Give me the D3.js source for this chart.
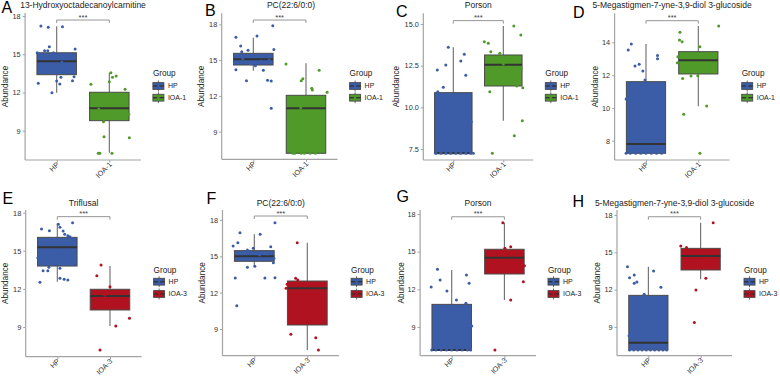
<!DOCTYPE html>
<html><head><meta charset="utf-8">
<script src="https://cdn.jsdelivr.net/npm/d3@7"></script>
<style>body{margin:0;background:#fff} svg{display:block} text{font-family:"Liberation Sans",Arial,Helvetica,sans-serif}</style>
</head><body><svg id="c" width="780" height="379"></svg>
<script>
// ---------------- data ----------------
const letters = ["A","B","C","D","E","F","G","H"];
const titles = ["13-Hydroxyoctadecanoylcarnitine","PC(22:6/0:0)","Porson","5-Megastigmen-7-yne-3,9-diol 3-glucoside",
                "Triflusal","PC(22:6/0:0)","Porson","5-Megastigmen-7-yne-3,9-diol 3-glucoside"];
const categories = [["HP","IOA-1"],["HP","IOA-1"],["HP","IOA-1"],["HP","IOA-1"],
                    ["HP","IOA-3"],["HP","IOA-3"],["HP","IOA-3"],["HP","IOA-3"]];
const yTicks = [[9,12,15,18],[9,12,15,18],[7.5,10,12.5,15],[8,10,12,14],
                [9,12,15,18],[9,12,15,18],[9,12,15,18],[9,12,15,18]];
const yTickFormat = ["d","d",".1f","d","d","d","d","d"];
const yLabel = "Abundance";
const legendTitle = "Group";
// box stats: [lower whisker, Q1, median, Q3, upper whisker]
const boxHP = [[11.98,13.4,14.45,15.12,17.2],[14.11,14.59,15.07,15.57,16.88],[7.24,7.24,7.24,10.88,13.6],[7.23,7.23,7.8,11.6,13.9],
               [12.57,13.8,15.27,16.06,17.16],[14.2,14.59,15.0,15.47,16.82],[7.16,7.16,7.16,10.8,13.54],[7.15,7.15,7.74,11.54,13.85]];
const boxIOA = [[7.28,9.79,10.76,12.02,13.56],[7.19,7.19,10.96,12.05,14.73],[9.2,11.28,12.56,13.14,14.88],[10.1,12.07,12.9,13.43,15.0],
                [9.08,10.34,11.44,11.97,13.8],[7.27,9.33,12.36,12.96,16.13],[11.15,13.22,14.52,15.19,17.31],[12.83,13.58,14.7,15.32,17.38]];
const sigY = [17.69,18.36,15.2,15.32,17.69,18.33,17.78,17.86];
const sigLabel = "***";
// points: [jitter (fraction of category step), value]
const pointsHP = [
 [[-0.30,17.22],[-0.16,17.12],[0.11,17.17],[-0.14,15.6],[-0.23,15.28],[-0.17,15.28],[-0.37,15.12],[-0.06,15.12],[0.35,15.42],[-0.35,12.72],[-0.09,11.98],[0,12.9],[0.06,12.67],[0.08,13.19],[0.30,12.93],[0.33,13.24],[-0.2,14.0],[0.1,14.4],[0.25,13.8],[-0.1,14.8]],
 [[0.37,17.89],[-0.33,16.91],[0.07,17.02],[-0.24,16.18],[-0.22,15.71],[-0.1,15.82],[0.39,15.9],[-0.36,14.78],[-0.33,14.2],[0.19,14.15],[0.04,14.53],[-0.13,13.28],[0.27,13.31],[0.34,13.25],[0.34,10.96],[-0.2,15.1],[0.0,15.3],[0.15,14.9],[0.3,15.0],[-0.05,14.7]],
 [[-0.1,13.6],[0.22,13.18],[0.15,12.78],[-0.15,12.54],[-0.32,12.24],[0.25,11.92],[-0.2,11.2],[-0.31,10.94],[0.36,9.14],[-0.35,7.24],[-0.25,7.24],[-0.15,7.24],[-0.05,7.24],[0.05,7.24],[0.15,7.24],[0.25,7.24],[0.35,7.24],[0.4,7.24],[0.1,9.8],[-0.2,8.5]],
 [[-0.28,13.9],[-0.34,13.53],[0.22,13.2],[0.22,13.0],[-0.13,12.66],[-0.21,12.55],[-0.06,12.25],[-0.02,11.7],[-0.38,10.54],[-0.38,7.23],[-0.3,7.23],[-0.2,7.23],[-0.1,7.23],[0,7.23],[0.1,7.23],[0.2,7.23],[0.3,7.23],[0.1,9.5],[-0.2,8.5]],
 [[0.29,17.21],[0.02,17.09],[0.05,16.85],[-0.3,16.72],[-0.15,16.58],[0.11,16.56],[0.14,16.3],[0.2,16.19],[0.24,16.11],[-0.37,14.46],[-0.16,13.7],[-0.27,13.43],[-0.18,13.43],[0.05,12.83],[0.13,12.76],[0.2,12.7],[-0.33,12.52],[0.05,13.62],[0,15.0],[-0.2,15.5],[0.2,14.5]],
 [[0.39,17.78],[-0.27,16.95],[0.11,16.82],[-0.31,16.13],[-0.4,15.85],[0.31,15.8],[-0.02,15.66],[-0.13,15.52],[0.37,14.84],[0.36,14.48],[-0.13,14.1],[0.01,14.18],[-0.36,13.21],[0.2,13.21],[0.39,13.24],[-0.33,10.92],[0.1,15.1],[-0.2,14.8],[0.25,15.2]],
 [[-0.27,13.59],[-0.22,12.74],[0.28,13.14],[0.33,12.48],[-0.39,12.18],[-0.09,11.86],[0.09,11.15],[0.27,10.88],[0.38,9.08],[-0.38,7.16],[-0.3,7.16],[-0.2,7.16],[-0.1,7.16],[0,7.16],[0.1,7.16],[0.2,7.16],[0.3,7.16],[0.36,7.16],[0,9.5],[-0.2,8.3]],
 [[-0.40,13.85],[-0.36,12.96],[-0.27,13.18],[-0.27,12.51],[-0.22,12.61],[0.1,13.5],[0.24,12.19],[-0.08,11.63],[-0.37,8.3],[-0.36,7.15],[-0.28,7.15],[-0.2,7.15],[-0.12,7.15],[-0.04,7.15],[0.04,7.15],[0.12,7.15],[0.2,7.15],[0.28,7.15],[0.35,7.15],[0,9.5],[0.2,10.5]]
];
const pointsIOA = [
 [[-0.35,12.64],[0.03,13.55],[0.06,13.19],[0.13,13.3],[0,12.85],[0.3,12.25],[-0.11,9.71],[-0.1,8.53],[0.38,8.45],[-0.21,7.24],[-0.18,7.24],[0.05,7.24],[0.37,10.3],[-0.2,10.7],[0.1,11.5],[0.2,10.0]],
 [[-0.38,14.67],[-0.09,13.28],[-0.06,13.44],[0.11,12.64],[0.12,12.5],[0.25,14.15],[0.40,12.3],[-0.25,7.19],[-0.21,7.19],[-0.09,7.19],[-0.03,7.19],[0.08,7.19],[0.18,7.19],[-0.1,11],[0.2,9.5],[0,10.2]],
 [[0.21,14.88],[0.35,14.34],[-0.38,13.94],[-0.3,13.84],[-0.25,13.34],[-0.07,13.24],[0.36,12.38],[0.27,11.28],[0.39,11.18],[-0.27,10.94],[0.38,9.2],[0.22,8.3],[-0.22,7.24],[0,12.6],[-0.15,12.0],[0.2,12.9]],
 [[0.39,15.0],[-0.35,14.61],[-0.36,14.14],[-0.31,14.04],[0.03,13.73],[-0.39,13.12],[-0.40,12.76],[-0.3,11.8],[-0.14,11.94],[-0.01,11.96],[0.16,10.12],[-0.28,9.61],[0.03,7.23],[0.1,12.5],[0.25,13.1],[-0.1,13.3]],
 [[-0.17,13.88],[-0.25,13.04],[0,12.17],[0.37,9.69],[0.11,9.08],[-0.19,7.19],[-0.1,11.5],[0.15,10.8]],
 [[-0.19,16.13],[-0.22,13.18],[-0.18,13.05],[-0.38,12.69],[-0.4,12.36],[-0.31,8.56],[0.16,8.28],[0.21,7.27],[0,11],[0.2,10]],
 [[-0.03,17.31],[0.01,15.27],[0.12,15.39],[0.38,13.88],[0.36,12.61],[0.12,11.15],[-0.18,7.16],[-0.1,14.2],[0.2,14.8]],
 [[0.24,17.38],[-0.38,15.51],[-0.27,15.38],[0.1,12.91],[-0.09,11.97],[-0.12,9.35],[0,14.5],[0.15,14.0],[-0.2,15.0]]
];
const groupColors = {"HP":"#3B5DA8","IOA-1":"#4F9A28","IOA-3":"#B1121F"};

// ---------------- layout ----------------
const layout = [
 {x0:25.1,x1:140.9,yTop:13,yBot:160,lo:6.703,hi:18.241,tx:83,ty:8,lx:1.5,ly:12.5,ax:5},
 {x0:221.7,x1:337.6,yTop:13.3,yBot:159.3,lo:6.686,hi:18.925,tx:291,ty:8,lx:205,ly:16,ax:201.7},
 {x0:423.3,x1:533.3,yTop:13.3,yBot:160,lo:6.84,hi:15.64,tx:478.3,ty:8,lx:396,ly:16.5,ax:396.7},
 {x0:614.6,x1:729.7,yTop:13.3,yBot:160,lo:6.823,hi:15.77,tx:672,ty:8,lx:573,ly:17.5,ax:595},
 {x0:25.7,x1:141.6,yTop:210,yBot:356.7,lo:6.661,hi:18.213,tx:83.6,ty:205.8,lx:2.5,ly:203.5,ax:5},
 {x0:222.5,x1:339.1,yTop:210,yBot:355.7,lo:6.794,hi:18.826,tx:280.8,ty:205.8,lx:206.5,ly:204,ax:202.3},
 {x0:420.1,x1:536,yTop:210,yBot:355.7,lo:6.709,hi:18.319,tx:478,ty:205.8,lx:396.5,ly:202,ax:401},
 {x0:617,x1:732,yTop:210,yBot:355.7,lo:6.69,hi:18.402,tx:674.5,ty:205.8,lx:572.5,ly:207,ax:597.7}
];
const legendRows = [{gy:75.5,k:[86,97.7]},{gy:273,k:[281.7,294]}];

const svg = d3.select("#c");
const axisCol = "#a3a3a3", outline = "#4a4a4a", whiskCol = "#6a6a6a", medCol = "#333333";

layout.forEach((L,i)=>{
  const g = svg.append("g");
  const x = d3.scalePoint().domain(categories[i]).range([L.x0,L.x1]).padding(0.6);
  const y = d3.scaleLinear().domain([L.lo,L.hi]).range([L.yBot,L.yTop]);
  const step = x.step(), bw = step*0.75;
  const fmt = d3.format(yTickFormat[i]);

  // boxes
  [boxHP[i], boxIOA[i]].forEach((b,j)=>{
    const cat = categories[i][j], cx = x(cat);
    const bg = g.append("g");
    bg.append("line").attr("x1",cx).attr("x2",cx).attr("y1",y(b[0])).attr("y2",y(b[1]))
      .attr("stroke",whiskCol).attr("stroke-width",1.1);
    bg.append("line").attr("x1",cx).attr("x2",cx).attr("y1",y(b[3])).attr("y2",y(b[4]))
      .attr("stroke",whiskCol).attr("stroke-width",1.1);
    bg.append("rect").attr("x",cx-bw/2).attr("width",bw).attr("y",y(b[3])).attr("height",Math.max(0,y(b[1])-y(b[3])))
      .attr("fill",groupColors[cat]).attr("stroke",outline).attr("stroke-width",1);
    bg.append("line").attr("x1",cx-bw/2).attr("x2",cx+bw/2).attr("y1",y(b[2])).attr("y2",y(b[2]))
      .attr("stroke",medCol).attr("stroke-width",2);
  });

  // points
  [pointsHP[i], pointsIOA[i]].forEach((pts,j)=>{
    const cat = categories[i][j];
    g.append("g").selectAll("circle").data(pts).join("circle")
      .attr("cx",d=>x(cat)+d[0]*step).attr("cy",d=>y(d[1])).attr("r",1.5)
      .attr("fill",groupColors[cat]);
  });

  // axes
  const ya = g.append("g").attr("transform",`translate(${L.x0},0)`)
    .call(d3.axisLeft(y).tickValues(yTicks[i]).tickFormat(fmt).tickSize(2.5).tickPadding(2));
  ya.select(".domain").remove();
  ya.selectAll(".tick line").attr("stroke",axisCol);
  ya.selectAll(".tick text").attr("font-size",7.3).attr("fill","#333").attr("font-family",null);
  g.append("line").attr("x1",L.x0).attr("x2",L.x0).attr("y1",L.yTop).attr("y2",L.yBot)
    .attr("stroke",axisCol).attr("stroke-width",1.2);

  const xa = g.append("g").attr("transform",`translate(0,${L.yBot})`)
    .call(d3.axisBottom(x).tickSize(2.5));
  xa.select(".domain").remove();
  xa.selectAll(".tick line").attr("stroke",axisCol);
  xa.selectAll(".tick text").attr("font-size",7.3).attr("fill","#333").attr("font-family",null)
    .attr("text-anchor","end").attr("dy",null).attr("y",0)
    .attr("transform","translate(2.5,5) rotate(-45)");
  g.append("line").attr("x1",L.x0).attr("x2",L.x1).attr("y1",L.yBot).attr("y2",L.yBot)
    .attr("stroke",axisCol).attr("stroke-width",1.2);

  // y label
  g.append("text").attr("transform",`translate(${L.ax},${(L.yTop+L.yBot)/2}) rotate(-90)`)
    .attr("text-anchor","middle").attr("dominant-baseline","central")
    .attr("font-size",8.2).attr("fill","#222").text(yLabel);

  // title
  g.append("text").attr("x",L.tx).attr("y",L.ty).attr("text-anchor","middle")
    .attr("font-size",8.5).attr("fill","#222").text(titles[i]);
  // panel letter
  g.append("text").attr("x",L.lx).attr("y",L.ly).attr("font-size",16).attr("fill","#000").text(letters[i]);

  // significance bracket
  const sy = y(sigY[i]), xa1 = x(categories[i][0]), xa2 = x(categories[i][1]);
  g.append("path").attr("d",`M${xa1},${sy+3}V${sy}H${xa2}V${sy+3}`)
    .attr("fill","none").attr("stroke","#8a8a8a").attr("stroke-width",0.9);
  g.append("text").attr("x",(xa1+xa2)/2).attr("y",sy-0.5).attr("text-anchor","middle")
    .attr("font-size",7.5).attr("fill","#444").text(sigLabel);

  // legend
  const R = legendRows[i<4?0:1];
  const kx = L.x1 + 12;
  g.append("text").attr("x",kx).attr("y",R.gy).attr("font-size",8.2).attr("fill","#222").text(legendTitle);
  categories[i].forEach((cat,j)=>{
    const ky = R.k[j], kc = kx+5.5;
    g.append("line").attr("x1",kc).attr("x2",kc).attr("y1",ky-5.5).attr("y2",ky+5.5)
      .attr("stroke",whiskCol).attr("stroke-width",1);
    g.append("rect").attr("x",kx).attr("y",ky-3.4).attr("width",11).attr("height",6.8)
      .attr("fill",groupColors[cat]).attr("stroke",outline).attr("stroke-width",0.9);
    g.append("line").attr("x1",kx).attr("x2",kx+11).attr("y1",ky).attr("y2",ky)
      .attr("stroke",medCol).attr("stroke-width",1.4);
    g.append("circle").attr("cx",kc).attr("cy",ky).attr("r",1.3).attr("fill",groupColors[cat]);
    g.append("text").attr("x",kx+15).attr("y",ky+2.4).attr("font-size",7).attr("fill","#222").text(cat);
  });
});
</script>
</body></html>
